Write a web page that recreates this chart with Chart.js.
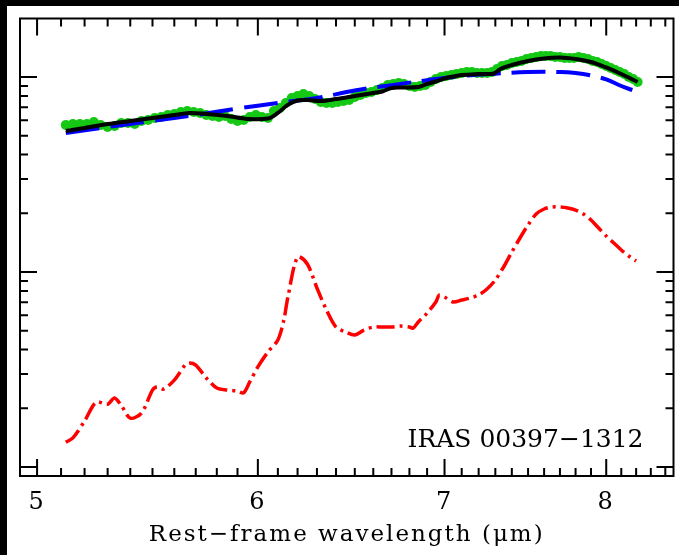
<!DOCTYPE html>
<html>
<head>
<meta charset="utf-8">
<script src="https://cdn.jsdelivr.net/npm/chart.js@4.4.1/dist/chart.umd.min.js"></script>
<style>
  html, body { margin: 0; padding: 0; background: #fff; }
  canvas { display: block; }
</style>
</head>
<body>
<canvas id="myChart" width="679" height="555"></canvas>
<script>
// Observed spectrum (green dots)
const obsWave = [5.12, 5.15, 5.18, 5.21, 5.24, 5.27, 5.30, 5.33, 5.36, 5.39, 5.42, 5.45, 5.48, 5.51, 5.54, 5.57,
    5.60, 5.63, 5.66, 5.69, 5.72, 5.75, 5.78, 5.81, 5.84, 5.87, 5.90, 5.93, 5.96, 5.99, 6.02, 6.05,
    6.08, 6.11, 6.14, 6.17, 6.20, 6.23, 6.26, 6.29, 6.32, 6.35, 6.38, 6.41, 6.44, 6.47, 6.50, 6.53,
    6.56, 6.59, 6.62, 6.65, 6.68, 6.71, 6.74, 6.77, 6.80, 6.83, 6.86, 6.89, 6.92, 6.95, 6.98, 7.01,
    7.04, 7.07, 7.10, 7.13, 7.16, 7.19, 7.22, 7.25, 7.28, 7.31, 7.34, 7.37, 7.40, 7.43, 7.46, 7.49,
    7.52, 7.55, 7.58, 7.61, 7.64, 7.67, 7.70, 7.73, 7.76, 7.79, 7.82, 7.85, 7.88, 7.91, 7.94, 7.97,
    8.00, 8.03, 8.06, 8.09, 8.12, 8.15, 8.18, 8.21];
const obsFlux = [0.567, 0.574, 0.574, 0.574, 0.588, 0.567, 0.554, 0.561, 0.581, 0.581, 0.574, 0.595, 0.602, 0.616, 0.624, 0.638,
    0.646, 0.661, 0.669, 0.661, 0.654, 0.638, 0.631, 0.624, 0.631, 0.609, 0.595, 0.602, 0.624, 0.638, 0.624, 0.616,
    0.669, 0.693, 0.736, 0.781, 0.799, 0.818, 0.799, 0.771, 0.745, 0.736, 0.736, 0.745, 0.753, 0.762, 0.790, 0.809,
    0.828, 0.838, 0.858, 0.878, 0.910, 0.921, 0.932, 0.921, 0.899, 0.889, 0.899, 0.910, 0.943, 0.977, 1.000, 1.012,
    1.024, 1.036, 1.048, 1.061, 1.061, 1.048, 1.048, 1.048, 1.061, 1.099, 1.139, 1.152, 1.180, 1.194, 1.208, 1.237,
    1.252, 1.266, 1.281, 1.281, 1.281, 1.266, 1.266, 1.252, 1.252, 1.252, 1.266, 1.252, 1.237, 1.208, 1.194, 1.166,
    1.139, 1.112, 1.086, 1.061, 1.036, 1.000, 0.977, 0.943];

// Total model fit (black)
const fitWave = [5.12, 5.20, 5.30, 5.40, 5.50, 5.60, 5.67, 5.75, 5.85, 5.95, 6.05, 6.10, 6.15, 6.20, 6.25, 6.32,
    6.40, 6.50, 6.60, 6.65, 6.70, 6.75, 6.85, 6.90, 6.95, 7.00, 7.05, 7.10, 7.20, 7.29, 7.33, 7.40,
    7.50, 7.60, 7.70, 7.80, 7.90, 8.00, 8.10, 8.21];
const fitFlux = [0.528, 0.548, 0.574, 0.595, 0.616, 0.638, 0.654, 0.646, 0.631, 0.609, 0.612, 0.654, 0.719, 0.758, 0.762, 0.753,
    0.771, 0.799, 0.828, 0.843, 0.878, 0.883, 0.889, 0.921, 0.948, 0.982, 1.006, 1.024, 1.036, 1.042, 1.099, 1.152,
    1.208, 1.244, 1.259, 1.237, 1.194, 1.119, 1.036, 0.943];

// Continuum (blue dashed)
const contWave = [5.12, 5.30, 5.50, 5.70, 5.90, 6.10, 6.30, 6.50, 6.70, 6.90, 7.10, 7.30, 7.50, 7.70, 7.80, 7.90, 8.00, 8.10, 8.20];
const contFlux = [0.516, 0.554, 0.595, 0.638, 0.689, 0.736, 0.781, 0.853, 0.908, 0.963, 1.011, 1.040, 1.061, 1.061, 1.048, 1.018, 0.971, 0.899, 0.843];

// PAH features (red dash-dot)
const pahWave = [5.12, 5.15, 5.20, 5.25, 5.30, 5.33, 5.36, 5.40, 5.45, 5.50, 5.52, 5.55, 5.60, 5.65, 5.67, 5.70,
    5.75, 5.80, 5.85, 5.90, 5.93, 5.96, 6.00, 6.05, 6.10, 6.13, 6.15, 6.20, 6.25, 6.30, 6.35, 6.40,
    6.45, 6.50, 6.55, 6.60, 6.65, 6.70, 6.75, 6.80, 6.82, 6.85, 6.90, 6.95, 6.97, 7.00, 7.05, 7.10,
    7.15, 7.20, 7.25, 7.30, 7.35, 7.40, 7.45, 7.50, 7.55, 7.60, 7.65, 7.70, 7.75, 7.80, 7.85, 7.90,
    7.95, 8.00, 8.05, 8.10, 8.15, 8.20];
const pahFlux = [0.0134, 0.0141, 0.0172, 0.0215, 0.0210, 0.0226, 0.0207, 0.0178, 0.0189, 0.0248, 0.0257, 0.0251, 0.0279, 0.0333, 0.0341, 0.0333,
    0.0286, 0.0254, 0.0248, 0.0245, 0.0240, 0.0273, 0.0326, 0.0389, 0.0448, 0.0567, 0.0736, 0.1194, 0.1099, 0.0828, 0.0638, 0.0522,
    0.0493, 0.0475, 0.0504, 0.0522, 0.0522, 0.0522, 0.0528, 0.0522, 0.0515, 0.0554, 0.0616, 0.0702, 0.0762, 0.0744, 0.0702, 0.0718,
    0.0736, 0.0762, 0.0818, 0.0910, 0.1061, 0.1266, 0.1494, 0.1742, 0.1983, 0.2104, 0.2154, 0.2154, 0.2129, 0.2079, 0.1983, 0.1848,
    0.1681, 0.1530, 0.1408, 0.1297, 0.1208, 0.1139];

const xTickLabels = [5, 6, 7, 8];
const xMin = 4.93, xMax = 8.457;
const yMin = 0.008993, yMax = 1.995;
const sourceName = 'IRAS 00397\u22121312';
const xTitle = 'Rest\u2212frame wavelength (\u03bcm)';

const toPoints = (xs, ys) => xs.map((v, i) => ({ x: v, y: ys[i] }));
const serif = 'DejaVu Serif';

// white page with the black strips at top and left
const pageBg = {
    id: 'pageBg',
    beforeDraw(chart) {
        const ctx = chart.ctx;
        ctx.save();
        ctx.fillStyle = '#fff';
        ctx.fillRect(0, 0, chart.width, chart.height);
        ctx.fillStyle = '#000';
        ctx.fillRect(0, 0, chart.width, 6);
        ctx.fillRect(0, 0, 7, chart.height);
        ctx.restore();
        ctx.letterSpacing = '2px'; // wide axis title lettering
    },
    beforeDatasetsDraw(chart) {
        chart.ctx.letterSpacing = '0px';
    }
};

// box frame with inward ticks on all four sides, plus the object label
const frameTicks = {
    id: 'frameTicks',
    afterDatasetsDraw(chart) {
        const { ctx, chartArea: a, scales: { x, y } } = chart;
        ctx.save();
        ctx.strokeStyle = '#000';
        ctx.lineWidth = 2;
        ctx.strokeRect(a.left, a.top, a.right - a.left, a.bottom - a.top);
        ctx.beginPath();
        for (let i = 50; i <= 85; i++) {
            const px = x.getPixelForValue(i / 10);
            if (px <= a.left + 1 || px >= a.right - 1) continue;
            const len = i % 10 === 0 ? 17 : 8;
            ctx.moveTo(px, a.bottom); ctx.lineTo(px, a.bottom - len);
            ctx.moveTo(px, a.top); ctx.lineTo(px, a.top + len);
        }
        for (let e = -3; e <= 0; e++) {
            for (let k = 1; k <= 9; k++) {
                const py = y.getPixelForValue(k * Math.pow(10, e));
                if (py <= a.top + 1 || py >= a.bottom - 1) continue;
                const len = k === 1 ? 17 : 8;
                ctx.moveTo(a.left, py); ctx.lineTo(a.left + len, py);
                ctx.moveTo(a.right, py); ctx.lineTo(a.right - len, py);
            }
        }
        ctx.stroke();

        ctx.fillStyle = '#000';
        ctx.font = '25px "' + serif + '"';
        ctx.textAlign = 'right';
        ctx.textBaseline = 'alphabetic';
        ctx.fillText(sourceName, a.right - 30, a.bottom - 29);
        ctx.restore();
    }
};

document.addEventListener("DOMContentLoaded", function() {
    const ctx = document.getElementById('myChart').getContext('2d');

    const data = {
        datasets: [{
            label: 'PAH',
            data: toPoints(pahWave, pahFlux),
            showLine: true,
            borderColor: '#ff0000',
            borderWidth: 3.5,
            borderDash: [18, 5, 3, 5],
            tension: 0.3,
            pointRadius: 0,
            order: 1
        }, {
            label: 'Fit',
            data: toPoints(fitWave, fitFlux),
            showLine: true,
            borderColor: '#000000',
            borderWidth: 4,
            tension: 0.35,
            pointRadius: 0,
            order: 2
        }, {
            label: 'Continuum',
            data: toPoints(contWave, contFlux),
            showLine: true,
            borderColor: '#0000ff',
            borderWidth: 4,
            borderDash: [34, 11],
            tension: 0.4,
            pointRadius: 0,
            order: 3
        }, {
            label: 'Data',
            data: toPoints(obsWave, obsFlux),
            showLine: false,
            pointRadius: 5,
            pointBorderWidth: 0,
            pointBackgroundColor: '#14c814',
            order: 4
        }]
    };

    const options = {
        responsive: false,
        animation: false,
        layout: {
            padding: { left: 20, right: 5.5, top: 18.5, bottom: 6 }
        },
        scales: {
            x: {
                type: 'logarithmic',
                position: 'bottom',
                bounds: 'data',
                min: xMin,
                max: xMax,
                grid: { display: false, drawTicks: false },
                border: { display: false },
                afterBuildTicks: (s) => {
                    s.ticks = xTickLabels.map(v => ({ value: v }));
                    s.min = xMin;
                    s.max = xMax;
                },
                afterFit: (s) => { s.height = 73; },
                ticks: {
                    autoSkip: false,
                    maxRotation: 0,
                    padding: 12,
                    color: '#000',
                    font: { family: serif, size: 24 },
                    callback: (v) => String(v)
                },
                title: {
                    display: true,
                    text: xTitle,
                    color: '#000',
                    padding: 0,
                    font: { family: serif, size: 23 }
                }
            },
            y: {
                type: 'logarithmic',
                display: false,
                bounds: 'data',
                min: yMin,
                max: yMax,
                afterBuildTicks: (s) => { s.min = yMin; s.max = yMax; }
            }
        },
        plugins: {
            legend: { display: false },
            tooltip: { enabled: false }
        }
    };

    new Chart(ctx, {
        type: 'scatter',
        data: data,
        options: options,
        plugins: [pageBg, frameTicks]
    });
});
</script>
</body>
</html>
